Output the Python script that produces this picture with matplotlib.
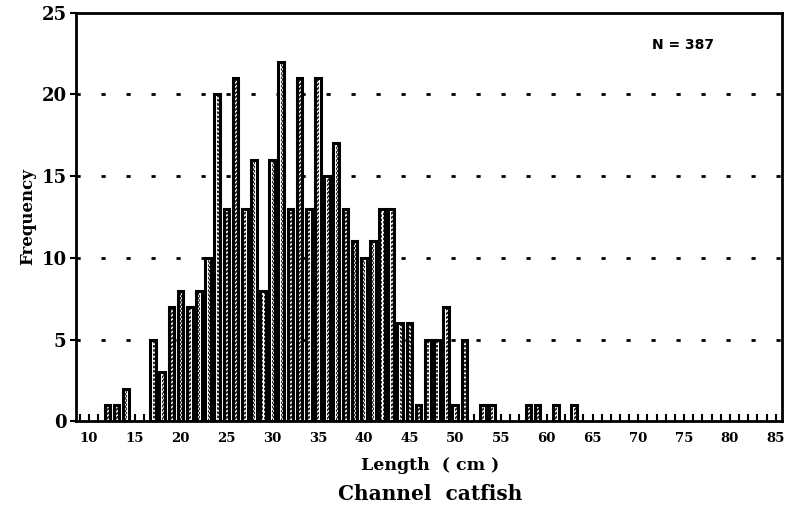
import matplotlib
matplotlib.use("Agg")
import matplotlib.pyplot as plt

# Length (cm) and number of fish in each 1 cm class
LENGTHS = [12, 13, 14, 17, 18, 19, 20, 21, 22, 23, 24, 25, 26, 27, 28, 29,
           30, 31, 32, 33, 34, 35, 36, 37, 38, 39, 40, 41, 42, 43, 44, 45,
           46, 47, 48, 49, 50, 51, 53, 54, 58, 59, 61, 63]
COUNTS = [1, 1, 2, 5, 3, 7, 8, 7, 8, 10, 20, 13, 21, 13, 16, 8,
          16, 22, 13, 21, 13, 21, 15, 17, 13, 11, 10, 11, 13, 13, 6, 6,
          1, 5, 5, 7, 1, 5, 1, 1, 1, 1, 1, 1]
X_TICKS = list(range(10, 90, 5))
Y_TICKS = [0, 5, 10, 15, 20, 25]
N_TOTAL = 387

SERIF = "DejaVu Serif"

fig = plt.figure(figsize=(7.86, 5.13), dpi=100)
ax = fig.add_axes([0.097, 0.179, 0.898, 0.796])

# bars: white with heavy black outline, dashed core like the print
ax.bar(LENGTHS, COUNTS, width=0.62, color="white", edgecolor="black",
       linewidth=2.2, zorder=3)
ax.bar(LENGTHS, COUNTS, width=0.12, color="none", edgecolor="black",
       linewidth=0.6, linestyle=(0, (3, 2)), zorder=4)

# dotted gridlines
for y in Y_TICKS[1:-1]:
    ax.axhline(y, color="black", linewidth=2,
               linestyle=(0, (1.5, 7.5)), zorder=1)

ax.set_xlim(8.6, 85.7)
ax.set_ylim(0, 25)
ax.set_xticks(X_TICKS)
ax.set_xticks(range(9, 86), minor=True)
ax.set_yticks(Y_TICKS)
ax.set_xticklabels([str(t) for t in X_TICKS], fontsize=9.5,
                   fontweight="bold", family=SERIF)
ax.set_yticklabels([str(t) for t in Y_TICKS], fontsize=13,
                   fontweight="bold", family=SERIF)
ax.tick_params(axis="x", which="both", direction="in", length=5, width=1.5,
               pad=8)
ax.tick_params(axis="y", direction="out", length=4, width=1.5, pad=3)

for s in ax.spines.values():
    s.set_linewidth(2)

ax.set_ylabel("Frequency", fontsize=12, fontweight="bold", family=SERIF,
              labelpad=4)
fig.text(0.547, 0.093, "Length  ( cm )", ha="center", va="center",
         fontsize=12.5, fontweight="bold", family=SERIF)
fig.text(0.547, 0.037, "Channel  catfish", ha="center", va="center",
         fontsize=14.5, fontweight="bold", family=SERIF)
fig.text(0.869, 0.912, "N = %d" % N_TOTAL, ha="center", va="center",
         fontsize=10, fontweight="bold", family="DejaVu Sans")

fig.savefig("out.png", dpi=100)
